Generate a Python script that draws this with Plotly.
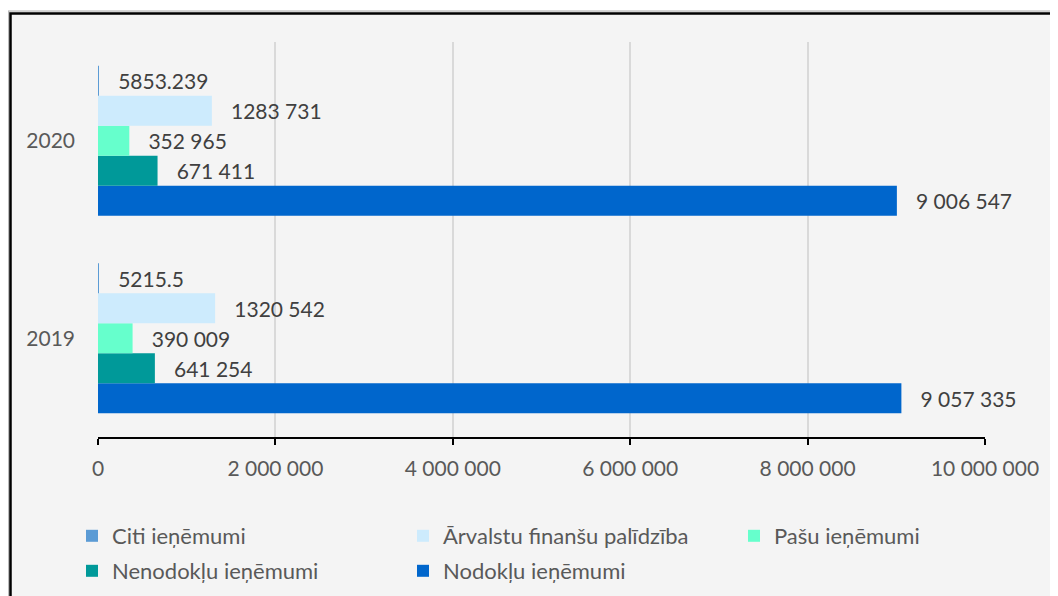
import plotly.graph_objects as go

years = ["2019", "2020"]
citi = [5215.5, 5853.239]
arvalstu = [1320542, 1283731]
pasu = [390009, 352965]
nenodoklu = [641254, 671411]
nodoklu = [9057335, 9006547]

names = {
    "citi": "Citi ieņēmumi",
    "arv": "Ārvalstu finanšu palīdzība",
    "pasu": "Pašu ieņēmumi",
    "nen": "Nenodokļu ieņēmumi",
    "nod": "Nodokļu ieņēmumi",
}
colors = {
    "citi": "#5b9bd5",
    "arv": "#cdebfd",
    "pasu": "#66ffcc",
    "nen": "#009999",
    "nod": "#0066cc",
}

x_ticks = [0, 2000000, 4000000, 6000000, 8000000, 10000000]

PAD = "\u00a0" * 3
FONT = "Lato"


def fmt_space(v):
    return f"{v:,}".replace(",", " ")


def fmt_last(v):
    return f"{v // 1000} {v % 1000:03d}"


def fmt_raw(v):
    return str(v)


# (key, values, label formatter, legend id, legend column, legend row)
series = [
    ("nod", nodoklu, fmt_space, "legend5", 1, 1),
    ("nen", nenodoklu, fmt_space, "legend4", 0, 1),
    ("pasu", pasu, fmt_space, "legend3", 2, 0),
    ("arv", arvalstu, fmt_last, "legend2", 1, 0),
    ("citi", citi, fmt_raw, "legend", 0, 0),
]

fig = go.Figure()
for key, vals, f, leg, _, _ in series:
    fig.add_trace(go.Bar(
        y=years, x=vals, orientation="h", name=names[key],
        marker=dict(color=colors[key], line=dict(width=0)),
        text=[PAD + f(v) for v in vals],
        textposition="outside",
        textfont=dict(family=FONT, size=21, color="#404040"),
        constraintext="none",
        cliponaxis=False,
        legend=leg,
    ))

# the page body adds an 8px offset; the figure is sized to fill the rest
OFF = 8
W, H = 1058 - OFF, 596 - OFF
ml, mr, mt, mb = 98 - OFF, 73, 42 - OFF, 159
pw, ph = W - ml - mr, H - mt - mb


def px2paper(xs, ys):
    """screen pixel -> paper coords"""
    return (xs - OFF - ml) / pw, (H - mb - (ys - OFF)) / ph


# soft shadow + black frame
for xs, ys, lw, col in [(8.6, 11, 1.2, "rgba(0,0,0,0.18)"), (8.8, 11.5, 2.5, "rgba(0,0,0,0.10)")]:
    a0, b0 = px2paper(xs, ys)
    a1, b1 = px2paper(1100, 650)
    fig.add_shape(type="rect", xref="paper", yref="paper", x0=a0, y0=b1, x1=a1, y1=b0,
                  line=dict(color=col, width=lw), fillcolor="rgba(0,0,0,0)", layer="below")

fx0, fy0 = px2paper(10.5, 13.5)
fx1, fy1 = px2paper(1090, 640)
fig.add_shape(type="rect", xref="paper", yref="paper", x0=fx0, y0=fy1, x1=fx1, y1=fy0,
              line=dict(color="#000000", width=2.5), fillcolor="#f4f4f4", layer="below")

# legend grid (screen px of each entry's left edge / row centre)
col_left = [72, 403, 734]
row_mid = [536, 571]

legends = {}
for key, vals, f, leg, c, r in series:
    lx, ly = px2paper(col_left[c], row_mid[r])
    legends[leg] = dict(
        orientation="h",
        x=lx, xanchor="left",
        y=ly, yanchor="middle",
        font=dict(family=FONT, size=22, color="#595959"),
        bgcolor="rgba(0,0,0,0)",
    )

fig.update_layout(
    width=W, height=H,
    margin=dict(l=ml, r=mr, t=mt, b=mb, autoexpand=False),
    paper_bgcolor="#ffffff",
    plot_bgcolor="rgba(0,0,0,0)",
    barmode="group",
    bargap=0.24,
    bargroupgap=0,
    separators=". ",
    font=dict(family=FONT, size=21, color="#595959"),
    showlegend=True,
    xaxis=dict(
        range=[0, 10000000],
        tickvals=x_ticks,
        tickformat=",d",
        showgrid=True, gridcolor="#d9d9d9", gridwidth=1.5,
        zeroline=False,
        showline=True, linecolor="#000000", linewidth=1.5,
        ticks="outside", ticklen=6, tickcolor="#000000", tickwidth=1.5,
        ticklabelstandoff=6,
        tickfont=dict(family=FONT, size=21, color="#595959"),
        automargin=False,
        fixedrange=True,
    ),
    yaxis=dict(
        categoryorder="array", categoryarray=years,
        showgrid=False, zeroline=False, showline=False,
        ticks="", ticklabelstandoff=22,
        tickfont=dict(family=FONT, size=21, color="#595959"),
        automargin=False,
        fixedrange=True,
    ),
    **legends,
)

fig.write_html("out.html")
